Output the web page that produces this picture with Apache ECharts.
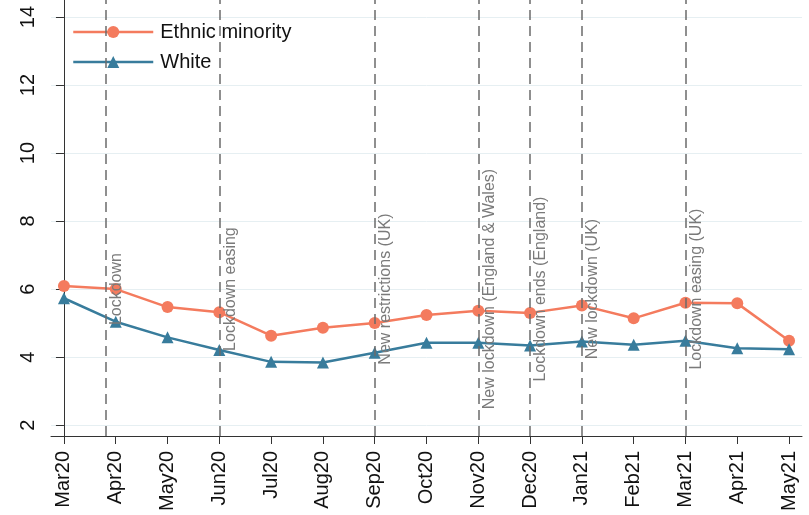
<!DOCTYPE html>
<html>
<head>
<meta charset="utf-8">
<script src="https://cdn.jsdelivr.net/npm/echarts@6/dist/echarts.min.js"></script>
<style>
  html, body { margin: 0; padding: 0; background: #fff; }
  #chart { width: 809px; height: 515px; }
</style>
</head>
<body>
<div id="chart"></div>
<script>
const months = ["Mar20", "Apr20", "May20", "Jun20", "Jul20", "Aug20", "Sep20",
  "Oct20", "Nov20", "Dec20", "Jan21", "Feb21", "Mar21", "Apr21", "May21"];
const ethnicMinority = [6.09, 6.0, 5.47, 5.32, 4.63, 4.86, 5.0, 5.24, 5.36, 5.3, 5.52, 5.14, 5.6, 5.58, 4.48];
const white = [5.73, 5.04, 4.58, 4.21, 3.86, 3.84, 4.13, 4.42, 4.42, 4.34, 4.46, 4.36, 4.48, 4.26, 4.23];
const yTicks = [2, 4, 6, 8, 10, 12, 14];
// events: position in months since Mar20
const eventPos = [0.8, 3, 6, 8, 9, 10, 12];
const eventNames = ["Lockdown", "Lockdown easing", "New restrictions (UK)",
  "New lockdown (England & Wales)", "Lockdown ends (England)",
  "New lockdown (UK)", "Lockdown easing (UK)"];
const eventLabelY = 6;

const xIdx = months.map((m, i) => i);
const font = "Liberation Sans";

const option = {
  animation: false,
  textStyle: { fontFamily: font },
  grid: { left: 51, right: 7, top: 0, bottom: 79 },
  legend: {
    data: ["Ethnic minority", "White"],
    orient: "vertical",
    left: 67,
    top: 17,
    itemWidth: 80,
    itemHeight: 15,
    itemGap: 10,
    lineStyle: { width: 2.5 },
    textStyle: { fontSize: 20, color: "#111", fontFamily: font, padding: [0, 0, 0, 2] }
  },
  xAxis: {
    type: "value",
    min: -0.25,
    max: 14.25,
    axisLine: { lineStyle: { color: "#333", width: 1 } },
    axisTick: { show: true, length: 8, customValues: xIdx, lineStyle: { color: "#333" } },
    axisLabel: {
      customValues: xIdx,
      rotate: 90,
      margin: 15,
      fontSize: 20,
      color: "#111",
      formatter: (v) => months[Math.round(v)]
    },
    splitLine: { show: false }
  },
  yAxis: {
    type: "value",
    min: 1.68,
    max: 14.5,
    axisLine: { show: true, lineStyle: { color: "#333", width: 1 } },
    axisTick: { show: true, length: 8, customValues: yTicks, lineStyle: { color: "#333" } },
    axisLabel: {
      customValues: yTicks,
      rotate: 90,
      margin: 13,
      fontSize: 20,
      color: "#111"
    },
    splitLine: { show: true, lineStyle: { color: "#e6eff2", width: 1 } }
  },
  series: [
    {
      name: "Ethnic minority",
      type: "line",
      data: ethnicMinority.map((v, i) => [i, v]),
      symbol: "circle",
      symbolSize: 12,
      color: "#f47b5e",
      lineStyle: { width: 2.5, color: "#f47b5e" },
      itemStyle: { color: "#f47b5e" },
      z: 3,
      markLine: {
        silent: true,
        symbol: "none",
        label: { show: false },
        lineStyle: { color: "#6b6b6b", type: [10, 6], width: 1.5 },
        data: eventPos.map((p) => ({ xAxis: p }))
      }
    },
    {
      name: "White",
      type: "line",
      data: white.map((v, i) => [i, v]),
      symbol: "triangle",
      symbolSize: 12,
      color: "#387c9c",
      lineStyle: { width: 2.5, color: "#387c9c" },
      itemStyle: { color: "#387c9c" },
      z: 3
    },
    {
      name: "events",
      type: "custom",
      silent: true,
      z: 4,
      data: eventPos.map((p) => [p, eventLabelY]),
      renderItem: function (params, api) {
        const pt = api.coord([api.value(0), api.value(1)]);
        return {
          type: "text",
          x: pt[0] + 3,
          y: pt[1],
          rotation: Math.PI / 2,
          style: {
            text: eventNames[params.dataIndex],
            fill: "#7a7a7a",
            font: "16px " + font,
            align: "center",
            verticalAlign: "top"
          }
        };
      }
    }
  ]
};

const chart = echarts.init(document.getElementById("chart"));
chart.setOption(option);
</script>
</body>
</html>
